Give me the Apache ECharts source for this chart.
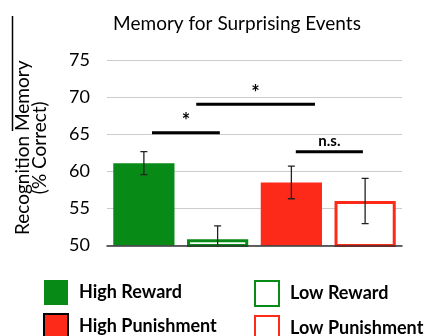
<!DOCTYPE html>
<html><head><meta charset="utf-8">
<script src="https://cdn.jsdelivr.net/npm/echarts@6/dist/echarts.min.js"></script>
<style>html,body{margin:0;padding:0;background:#fff}#c{width:430px;height:336px}</style>
</head><body><div id="c"></div>
<script>
var categories = ['High Reward', 'Low Reward', 'High Punishment', 'Low Punishment'];
var means = [61.1, 50.85, 58.5, 56.0];
var errors = [1.55, 1.8, 2.2, 3.05];
var yTicks = [50, 55, 60, 65, 70, 75];
// significance brackets: [xStart, xEnd (category units), y value, label]
var sigStart = [0.11, 0.71, 2.06];
var sigEnd = [1.03, 2.32, 2.97];
var sigY = [65.2, 69.05, 62.65];
var sigLabel = ['*', '*', 'n.s.'];

var GREEN = '#078a16', RED = '#fd2a1a';
var FONT = 'Lato';
var styles = [
  {color: GREEN, borderColor: GREEN, borderWidth: 0},
  {color: '#fff', borderColor: GREEN, borderWidth: 3},
  {color: RED, borderColor: RED, borderWidth: 0},
  {color: '#fff', borderColor: RED, borderWidth: 3}
];

var series = categories.map(function (name, i) {
  var d = categories.map(function (c, j) { return j === i ? means[i] : null; });
  return {
    name: name, type: 'bar', data: d, barWidth: '83%', barGap: '-100%',
    itemStyle: styles[i], silent: true
  };
});

var errData = means.map(function (m, i) { return [i, m - errors[i], m + errors[i]]; });
series.push({
  type: 'custom', xAxisIndex: 1, data: errData, silent: true, z: 5,
  renderItem: function (params, api) {
    var x = api.value(0);
    var lo = api.coord([x, api.value(1)]);
    var hi = api.coord([x, api.value(2)]);
    var st = {stroke: '#222', lineWidth: 1.3};
    return {type: 'group', children: [
      {type: 'line', shape: {x1: lo[0], y1: lo[1], x2: hi[0], y2: hi[1]}, style: st},
      {type: 'line', shape: {x1: lo[0] - 3.5, y1: lo[1], x2: lo[0] + 3.5, y2: lo[1]}, style: st},
      {type: 'line', shape: {x1: hi[0] - 3.5, y1: hi[1], x2: hi[0] + 3.5, y2: hi[1]}, style: st}
    ]};
  },
  clip: true
});

var sigData = sigStart.map(function (s, i) { return [s, sigEnd[i], sigY[i], i]; });
series.push({
  type: 'custom', xAxisIndex: 1, data: sigData, silent: true, z: 6,
  renderItem: function (params, api) {
    var a = api.coord([api.value(0), api.value(2)]);
    var b = api.coord([api.value(1), api.value(2)]);
    var lbl = sigLabel[api.value(3)];
    var isStar = lbl === '*';
    return {type: 'group', children: [
      {type: 'line', shape: {x1: a[0], y1: a[1], x2: b[0], y2: b[1]}, style: {stroke: '#000', lineWidth: 3}},
      {type: 'text', x: (a[0] + b[0]) / 2, y: a[1] - (isStar ? 1 : 3),
       style: {text: lbl, fill: '#000', font: 'bold ' + (isStar ? 20 : 15) + 'px ' + FONT,
               align: 'center', verticalAlign: 'bottom'}}
    ]};
  },
  clip: false
});

var legendText = {fontFamily: FONT, fontSize: 18, fontWeight: 'bold', color: '#000', padding: [0, 0, 0, 6]};
var chart = echarts.init(document.getElementById('c'), null, {renderer: 'canvas'});
chart.setOption({
  animation: false,
  title: {text: 'Memory for Surprising Events', left: 232, top: 9, textAlign: 'center',
    textStyle: {fontFamily: FONT, fontSize: 19, fontWeight: 'normal', color: '#000'}},
  grid: {left: 107, right: 28, top: 60, bottom: 90.5},
  xAxis: [
    {type: 'category', data: categories, axisLabel: {show: false}, axisTick: {show: false},
     axisLine: {lineStyle: {color: '#333', width: 1.5}}, z: 10},
    {type: 'value', min: -0.5, max: 3.5, show: false}
  ],
  yAxis: {type: 'value', min: yTicks[0], max: yTicks[yTicks.length - 1], interval: 5,
    name: 'Recognition Memory\n(% Correct)', nameLocation: 'middle', nameGap: 59, nameRotate: 90,
    nameTextStyle: {fontFamily: FONT, fontSize: 19, color: '#000', lineHeight: 17, padding: [0, 0, 0, 10]},
    axisLine: {show: false}, axisTick: {show: false},
    axisLabel: {fontFamily: FONT, fontSize: 18, color: '#000', margin: 17},
    splitLine: {lineStyle: {color: '#ccc', width: 1}}},
  legend: [
    {left: 43, top: 280, height: 120, padding: 0, orient: 'vertical', itemWidth: 24, itemHeight: 25, itemGap: 8,
     selectedMode: false, icon: 'rect',
     data: ['High Reward', {name: 'High Punishment', itemStyle: {borderColor: '#000', borderWidth: 2}}],
     textStyle: legendText},
    {left: 254, top: 280, height: 120, padding: 0, orient: 'vertical', itemWidth: 24, itemHeight: 25, itemGap: 8,
     selectedMode: false, icon: 'rect',
     data: ['Low Reward', 'Low Punishment'],
     textStyle: legendText}
  ],
  graphic: [{type: 'line', shape: {x1: 12.5, y1: 16, x2: 12.5, y2: 131}, style: {stroke: '#000', lineWidth: 1.5}}],
  series: series
});
</script></body></html>
